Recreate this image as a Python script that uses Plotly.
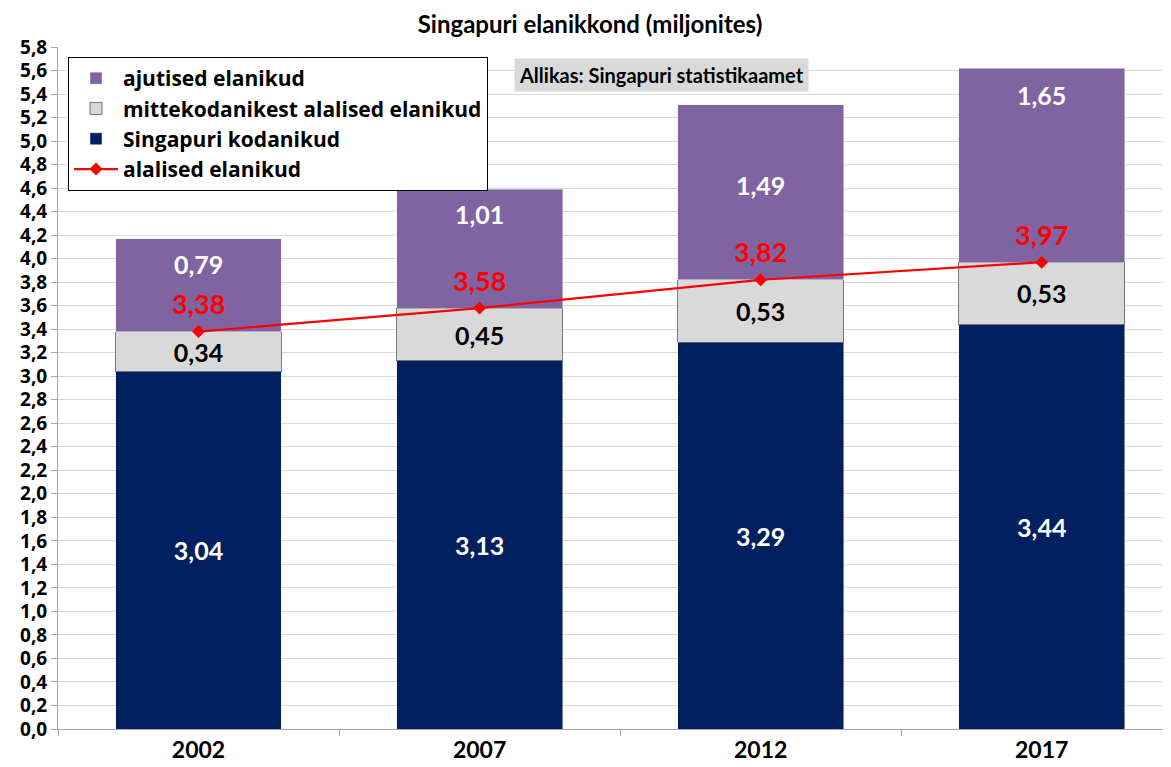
import plotly.graph_objects as go

years = ["2002", "2007", "2012", "2017"]
citizens = [3.04, 3.13, 3.29, 3.44]
pr_noncitizens = [0.34, 0.45, 0.53, 0.53]
temporary = [0.79, 1.01, 1.49, 1.65]
residents = [3.38, 3.58, 3.82, 3.97]
y_ticks = [i / 10 for i in range(0, 59, 2)]

# label placement (style): fraction of purple segment, pixel shift of red labels
temp_label_frac = [0.73, 0.79, 0.54, 0.86]
res_label_shift = 28

FONT = "Lato"
OFF = 8  # page body margin
# plot area in screenshot pixels
L, R, T, B = 58, 1171, 47, 729
W, H = 1171, 767


def px(x):
    return (x - L) / (R - L)


def py(y):
    return (B - y) / (B - T)


def fmt(v):
    return f"{v:.2f}".replace(".", ",")


fig = go.Figure()
fig.add_trace(go.Bar(
    x=years, y=citizens, name="Singapuri kodanikud", marker_color="#002060",
    text=[fmt(v) for v in citizens], textposition="inside", insidetextanchor="middle",
    textfont=dict(color="white", size=25, family=FONT, weight="bold"),
    legendrank=3, width=0.59))
fig.add_trace(go.Bar(
    x=years, y=pr_noncitizens, name="mittekodanikest alalised elanikud",
    marker=dict(color="#D9D9D9", line=dict(color="#595959", width=0.8)),
    text=[fmt(v) for v in pr_noncitizens], textposition="inside", insidetextanchor="middle",
    textfont=dict(color="black", size=25, family=FONT, weight="bold"),
    legendrank=2, width=0.59))
fig.add_trace(go.Bar(
    x=years, y=temporary, name="ajutised elanikud", marker_color="#8064A2",
    legendrank=1, width=0.59))
fig.add_trace(go.Scatter(
    x=years, y=residents, name="alalised elanikud", mode="lines+markers",
    line=dict(color="#FF0000", width=2.2),
    marker=dict(symbol="diamond", size=10, color="#FF0000"),
    legendrank=4))

annotations = []
for i, yr in enumerate(years):
    annotations.append(dict(
        x=i, y=residents[i] + temporary[i] * temp_label_frac[i], text=fmt(temporary[i]),
        showarrow=False, font=dict(color="white", size=25, family=FONT, weight="bold")))
    annotations.append(dict(
        x=i, y=residents[i], yshift=res_label_shift, text=fmt(residents[i]),
        showarrow=False, font=dict(color="#FF0000", size=27, family=FONT, weight="bold")))

annotations.append(dict(
    xref="paper", yref="paper", x=px(514), y=py(58),
    xanchor="left", yanchor="top", showarrow=False,
    text="Allikas: Singapuri statistikaamet", bgcolor="#D9D9D9",
    borderpad=4, font=dict(color="black", size=20, family=FONT, weight="bold")))

fig.update_layout(
    width=W, height=H,
    margin=dict(l=L - OFF, r=W + OFF - R, t=T - OFF, b=H + OFF - B),
    paper_bgcolor="white", plot_bgcolor="white",
    barmode="stack", separators=", ",
    title=dict(text="Singapuri elanikkond (miljonites)", x=(590 - OFF) / W, xanchor="center",
               y=1 - (25 - OFF) / H, yanchor="middle",
               font=dict(size=24, family=FONT, color="black", weight="bold")),
    showlegend=True,
    legend=dict(x=px(68), y=py(57), xanchor="left", yanchor="top",
                bgcolor="white", bordercolor="black", borderwidth=1,
                traceorder="normal", itemwidth=44, tracegroupgap=0,
                font=dict(size=21, family="Open Sans", color="black", weight="bold")),
    annotations=annotations,
    shapes=[dict(type="rect", xref="paper", yref="paper",
                 x0=px(7), x1=1.02, y0=-0.2, y1=py(4),
                 line=dict(color="#A6A6A6", width=1), layer="below")],
)
fig.update_xaxes(
    range=[-0.5, 3.46], type="category", showline=True, linecolor="#A6A6A6",
    ticks="outside", tickson="boundaries", ticklen=6, tickcolor="#A6A6A6",
    showgrid=False,
    tickfont=dict(size=23, family=FONT, color="black", weight="bold"))
fig.update_yaxes(
    range=[0, 5.8], tickvals=y_ticks, tickformat=".1f",
    showline=True, linecolor="#A6A6A6", ticks="outside", ticklen=6, tickcolor="#A6A6A6",
    showgrid=True, gridcolor="#D9D9D9", gridwidth=1, zeroline=False,
    tickfont=dict(size=19, family="Open Sans", color="black", weight="bold"))

fig.write_html("out.html")
